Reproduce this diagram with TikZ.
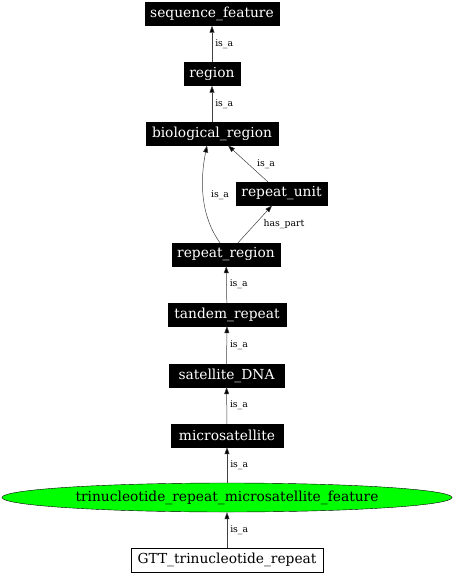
\documentclass[tikz,border=0pt]{standalone}
\usepackage{fontspec}
\setmainfont{DejaVu Serif}
\usetikzlibrary{shapes.geometric,arrows.meta}
\begin{document}
\begin{tikzpicture}[x=1pt,y=-1pt,
  blk/.style={fill=black,text=white,draw=black,inner sep=0pt,minimum height=23pt,font=\fontsize{13.8}{14}\selectfont},
  edge/.style={draw=black!75,line width=0.5pt,-{Triangle[length=7pt,width=5pt,fill=black]}},
  lbl/.style={font=\fontsize{9.3}{10}\selectfont,inner sep=1pt}]
\useasboundingbox (0,0) rectangle (454,576);
\node[blk,minimum width=134pt] (sf) at (212,14) {sequence\_feature};
\node[blk,minimum width=56pt] (rg) at (212,74) {region};
\node[blk,minimum width=132pt] (br) at (212,133.5) {biological\_region};
\node[blk,minimum width=91pt] (ru) at (281.5,193.5) {repeat\_unit};
\node[blk,minimum width=108pt] (rr) at (226,254.5) {repeat\_region};
\node[blk,minimum width=118pt] (tr) at (227,314.5) {tandem\_repeat};
\node[blk,minimum width=115pt] (sd) at (226.5,375.5) {satellite\_DNA};
\node[blk,minimum width=112pt] (ms) at (227,435.5) {microsatellite};
\node[ellipse,draw=black,fill=green,minimum width=450pt,minimum height=29pt,inner sep=0pt,font=\fontsize{13.8}{14}\selectfont] (tm) at (227,497.5) {trinucleotide\_repeat\_microsatellite\_feature};
\node[draw=black,fill=white,minimum width=192pt,minimum height=24pt,inner sep=0pt,font=\fontsize{13.8}{14}\selectfont] (gtt) at (227,560) {GTT\_trinucleotide\_repeat};
\draw[edge] (rg) -- node[lbl,right,xshift=2pt] {is\_a} (sf);
\draw[edge] (br) -- node[lbl,right,xshift=2pt] {is\_a} (rg);
\draw[edge] (ru.north west) ++(32,0) coordinate (ruo) -- (228,145.5);
\node[lbl] at (266,164) {is\_a};
\draw[edge] (rr.north) ++(-6,0) coordinate (rro) .. controls (200,215) and (200,180) .. (207,145.5);
\node[lbl] at (220,195) {is\_a};
\draw[edge] (rr.north) ++(12,0) -- (272,205.5);
\node[lbl] at (284,224) {has\_part};
\draw[edge] (tr) -- node[lbl,right,xshift=2pt] {is\_a} (rr);
\draw[edge] (sd) -- node[lbl,right,xshift=2pt] {is\_a} (tr);
\draw[edge] (ms) -- node[lbl,right,xshift=2pt] {is\_a} (sd);
\draw[edge] (tm) -- node[lbl,right,xshift=2pt] {is\_a} (ms);
\draw[edge] (gtt) -- node[lbl,right,xshift=2pt] {is\_a} (tm);
\end{tikzpicture}
\end{document}
